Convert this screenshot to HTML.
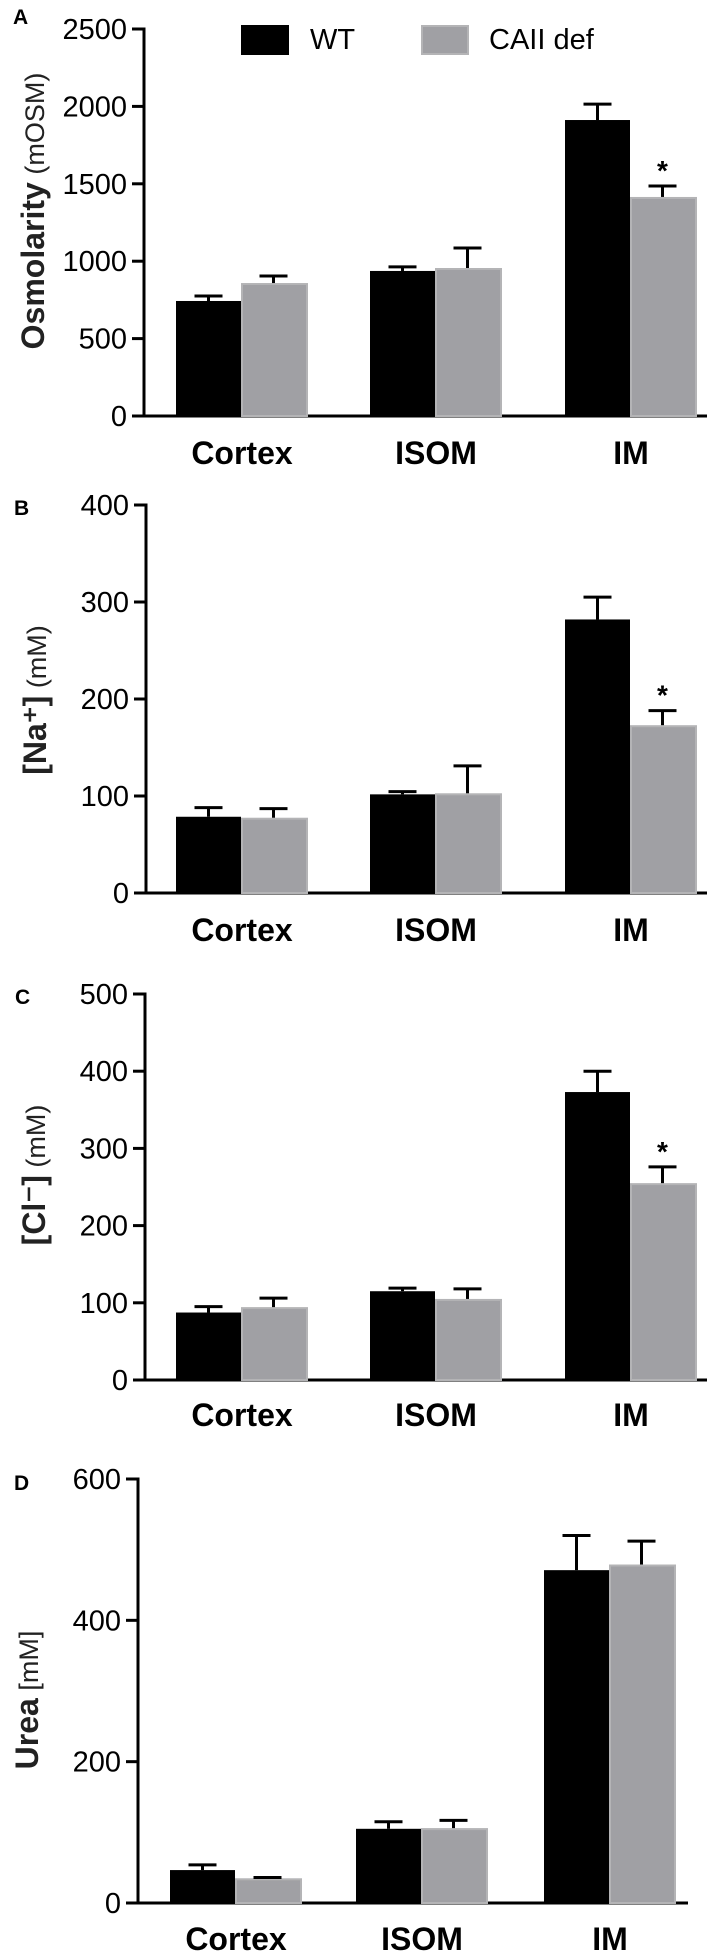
<!DOCTYPE html>
<html><head><meta charset="utf-8"><style>
html,body{margin:0;padding:0;background:#fff;}
svg{display:block;font-family:"Liberation Sans",Arial,sans-serif;}
</style></head><body>
<svg id="fig" width="709" height="1953" viewBox="0 0 709 1953">
<g>
  <rect x="241" y="25" width="48" height="30" fill="#000"/>
  <text x="310" y="49" font-size="29">WT</text>
  <rect x="422" y="26" width="46" height="28" fill="#a0a0a4" stroke="#b4b4b6" stroke-width="2"/>
  <text x="489" y="49" font-size="29">CAII def</text>
</g>
</svg>
<script>
const categories = ["Cortex","ISOM","IM"];
const wtA = [743, 937, 1912];   const wtErrA = [775, 963, 2015];
const caA = [859, 956, 1415];   const caErrA = [904, 1085, 1486];
const wtB = [78.6, 101.7, 282]; const wtErrB = [88, 104.5, 305];
const caB = [77.6, 102.8, 173]; const caErrB = [87, 131, 188];
const wtC = [87.4, 115, 373];   const wtErrC = [95, 119, 400];
const caC = [94.4, 105, 255];   const caErrC = [106, 118, 276];
const wtD = [46.6, 105, 471];   const wtErrD = [54, 115, 520];
const caD = [35, 106, 479];     const caErrD = [36, 117, 512];
const ticksA = [0, 500, 1000, 1500, 2000, 2500];
const ticksB = [0, 100, 200, 300, 400];
const ticksC = [0, 100, 200, 300, 400, 500];
const ticksD = [0, 200, 400, 600];
const sigA = [false, false, true];
const sigB = [false, false, true];
const sigC = [false, false, true];
const sigD = [false, false, false];

const NS = "http://www.w3.org/2000/svg";
const svg = document.getElementById("fig");
function mk(tag, attrs, parent, txt){
  const e = document.createElementNS(NS, tag);
  for (const k in attrs) e.setAttribute(k, attrs[k]);
  if (txt !== undefined) e.textContent = txt;
  parent.appendChild(e);
  return e;
}
const panels = [
  {id:"a", letter:"A", lx:13, ly:24, axX:144, y0:416, yMax:29, vmax:2500, xEnd:707, centers:[241,435,630], bw:65,
   ticks:ticksA, wt:wtA, wtE:wtErrA, ca:caA, caE:caErrA, sig:sigA, labY:464, titleBold:"Osmolarity", titleReg:" (mOSM)", titleCy:211},
  {id:"b", letter:"B", lx:14, ly:515, axX:146, y0:893, yMax:505, vmax:400, xEnd:707, centers:[241,435,630], bw:65,
   ticks:ticksB, wt:wtB, wtE:wtErrB, ca:caB, caE:caErrB, sig:sigB, labY:941, titleBold:"[Na\u207A]", titleReg:" (mM)", titleCy:700},
  {id:"c", letter:"C", lx:15, ly:1004, axX:145, y0:1380, yMax:994, vmax:500, xEnd:707, centers:[241,435,630], bw:65,
   ticks:ticksC, wt:wtC, wtE:wtErrC, ca:caC, caE:caErrC, sig:sigC, labY:1426, titleBold:"[Cl\u207B]", titleReg:" (mM)", titleCy:1175},
  {id:"d", letter:"D", lx:14, ly:1490, axX:138, y0:1903, yMax:1479, vmax:600, xEnd:688, centers:[235,421,609], bw:65,
   ticks:ticksD, wt:wtD, wtE:wtErrD, ca:caD, caE:caErrD, sig:sigD, labY:1950, titleBold:"Urea", titleReg:" [mM]", titleCy:1700}
];
panels.forEach(p => {
  const g = mk("g", {}, svg);
  
  
  const ys = v => p.y0 - v / p.vmax * (p.y0 - p.yMax);
  const lt = mk("text", {x:p.lx, y:p.ly, "font-size":21, "font-weight":"bold"}, g, p.letter);
  
  
  const title = mk("text", {transform:`translate(${p.axX-100},${p.titleCy}) rotate(-90)`, "text-anchor":"middle", "font-size":27, fill:"#222"}, g);
  
  
  mk("tspan", {"font-weight":"bold", "font-size":32}, title, p.titleBold);
  mk("tspan", {}, title, p.titleReg);
  const ya = mk("line", {x1:p.axX, y1:p.yMax-1.5, x2:p.axX, y2:p.y0, stroke:"#000", "stroke-width":3}, g);
  
  
  const xa = mk("line", {x1:p.axX-12, y1:p.y0, x2:p.xEnd, y2:p.y0, stroke:"#000", "stroke-width":3}, g);
  
  
  p.ticks.forEach(t => {
    const y = ys(t);
    const tk = mk("line", {x1:p.axX-12, y1:y, x2:p.axX, y2:y, stroke:"#000", "stroke-width":3}, g);
    
    
    const tl = mk("text", {x:p.axX-17, y:y+10, "text-anchor":"end", "font-size":29}, g, String(t));
    
    
  });
  categories.forEach((c, i) => {
    const cx = p.centers[i];
    const wv = p.wt[i], cv = p.ca[i];
    const wb = mk("rect", {x:cx-p.bw, y:ys(wv), width:p.bw, height:p.y0-ys(wv), fill:"#000"}, g);
    
    
    const cb = mk("rect", {x:cx+1, y:ys(cv)+1, width:p.bw, height:p.y0-ys(cv)-1, fill:"#a0a0a4", stroke:"#b4b4b6", "stroke-width":2}, g);
    
    
    [[cx-p.bw/2, wv, p.wtE[i], 'wt'], [cx+p.bw/2, cv, p.caE[i], 'caii']].forEach(([ex, v, e, s]) => {
      const eg = mk("g", {stroke:"#000", "stroke-width":3}, g);
      
      
      mk("line", {x1:ex, y1:ys(v), x2:ex, y2:ys(e)}, eg);
      mk("line", {x1:ex-14, y1:ys(e), x2:ex+14, y2:ys(e)}, eg);
    });
    if (p.sig[i]) {
      const st = mk("text", {x:cx+p.bw/2, y:ys(p.caE[i])-6, "text-anchor":"middle", "font-size":28, "font-weight":"bold"}, g, "*");
      
      
    }
    const cl = mk("text", {x:cx+1, y:p.labY, "text-anchor":"middle", "font-size":32, "font-weight":"bold"}, g, c);
    
    
  });
});
</script>
</body></html>
